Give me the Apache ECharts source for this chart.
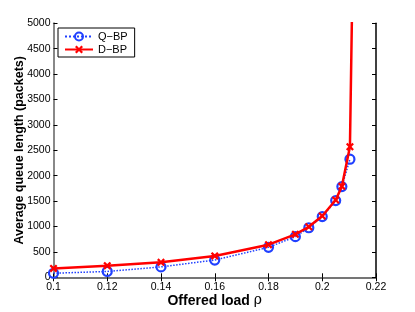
<!DOCTYPE html>
<html>
<head>
<meta charset="utf-8">
<script src="https://cdn.jsdelivr.net/npm/echarts@6/dist/echarts.min.js"></script>
<style>
html,body{margin:0;padding:0;background:#fff;}
#chart{width:415px;height:312px;}
</style>
</head>
<body>
<div id="chart"></div>
<script>
// Data
var loads = [0.1, 0.12, 0.14, 0.16, 0.18, 0.19, 0.195, 0.2, 0.205, 0.2073, 0.2103];
var qbp   = [80, 115, 205, 340, 590, 800, 975, 1195, 1510, 1785, 2325];
var dbpLoads = [0.1, 0.12, 0.14, 0.16, 0.18, 0.19, 0.195, 0.2, 0.205, 0.2073, 0.2103, 0.2113];
var dbp   = [175, 228, 295, 420, 642, 845, 995, 1207, 1522, 1790, 2570, 6000];
var xTicks = [0.1, 0.12, 0.14, 0.16, 0.18, 0.2, 0.22];
var yTicks = [0, 500, 1000, 1500, 2000, 2500, 3000, 3500, 4000, 4500, 5000];

function pairs(xs, ys){ return xs.map(function(x,i){ return [x, ys[i]]; }); }

var font = 'Liberation Sans, Arial, sans-serif';
var chart = echarts.init(document.getElementById('chart'), null, {renderer:'canvas'});
var crossPath = 'path://M0,2 L2,0 L5,3 L8,0 L10,2 L7,5 L10,8 L8,10 L5,7 L2,10 L0,8 L3,5 Z';

var tickStyle = {show:true, inside:true, length:4, lineStyle:{color:'#000', width:1}};
chart.setOption({
  animation:false,
  backgroundColor:'#fff',
  grid:{left:53.5, right:39, top:23.3, bottom:34.7, containLabel:false, outerBoundsMode:'none'},
  legend:{
    orient:'vertical', left:58, top:28,
    backgroundColor:'#fff', borderColor:'#000', borderWidth:1,
    padding:[3,7,2,6], itemGap:2, itemWidth:28, itemHeight:10,
    textStyle:{fontFamily:font, fontSize:11, color:'#000'},
    data:['Q\u2212BP','D\u2212BP']
  },
  xAxis:[{
    type:'value', min:xTicks[0], max:xTicks[xTicks.length-1], interval:0.02,
    name:'{a|Offered load }{b|\u03c1}', nameLocation:'middle', nameGap:16.5, nameMoveOverlap:false,
    nameTextStyle:{fontFamily:font, fontSize:14, fontWeight:'bold', color:'#000',
      rich:{a:{fontFamily:font, fontSize:14, fontWeight:'bold', color:'#000'},
            b:{fontFamily:'DejaVu Serif, serif', fontSize:14, fontWeight:'normal', color:'#000'}}},
    axisLine:{show:true, lineStyle:{color:'#000', width:1.5}},
    axisTick:tickStyle,
    axisLabel:{fontFamily:font, fontSize:10.5, color:'#000', margin:4,
      formatter:function(v){ return String(+v.toFixed(4)); }},
    splitLine:{show:false}
  },{
    type:'value', position:'top', min:xTicks[0], max:xTicks[xTicks.length-1], interval:0.02,
    axisLine:{show:true, lineStyle:{color:'#888', width:1.5}},
    axisTick:tickStyle, axisLabel:{show:false}, splitLine:{show:false}
  }],
  yAxis:[{
    type:'value', min:yTicks[0], max:yTicks[yTicks.length-1], interval:500,
    name:'Average queue length (packets)', nameLocation:'middle', nameGap:27, nameMoveOverlap:false,
    nameTextStyle:{fontFamily:font, fontSize:12.5, fontWeight:'bold', color:'#000'},
    axisLine:{show:true, lineStyle:{color:'#888', width:2}},
    axisTick:tickStyle,
    axisLabel:{fontFamily:font, fontSize:10.5, color:'#000', margin:3,
      formatter:function(v){ return String(v); }},
    splitLine:{show:false}
  },{
    type:'value', position:'right', min:yTicks[0], max:yTicks[yTicks.length-1], interval:500,
    axisLine:{show:true, lineStyle:{color:'#000', width:1.5}},
    axisTick:tickStyle, axisLabel:{show:false}, splitLine:{show:false}
  }],
  series:[{
    name:'Q\u2212BP', type:'line', data:pairs(loads, qbp),
    symbol:'circle', symbolSize:9, showAllSymbol:true,
    lineStyle:{color:'#2040ff', width:1.5, type:'dotted'},
    itemStyle:{color:'rgba(255,255,255,0)', borderColor:'#2040ff', borderWidth:2.2},
    clip:true, z:2
  },{
    name:'D\u2212BP', type:'line', data:pairs(dbpLoads, dbp),
    symbol:crossPath, symbolSize:8, showAllSymbol:true,
    lineStyle:{color:'#ff0000', width:2.5},
    itemStyle:{color:'#ff0000', borderWidth:0},
    clip:true, z:3
  }]
});
</script>
</body>
</html>
